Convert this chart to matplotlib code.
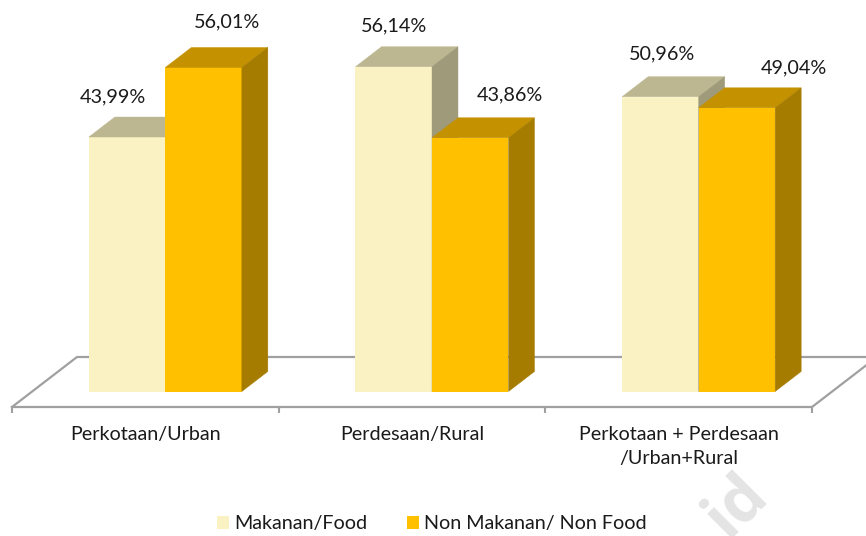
import matplotlib
matplotlib.use("Agg")
import matplotlib.pyplot as plt
from matplotlib.patches import Polygon, Patch

categories = ["Perkotaan/Urban", "Perdesaan/Rural", "Perkotaan + Perdesaan\n/Urban+Rural"]
food = [43.99, 56.14, 50.96]
non_food = [56.01, 43.86, 49.04]
food_name = "Makanan/Food"
non_food_name = "Non Makanan/ Non Food"

plt.rcParams['font.family'] = ['Lato', 'DejaVu Sans']
W, H = 866, 536
FS = 14.2
fig = plt.figure(figsize=(W / 100, H / 100), dpi=100)

# axes: x spans 3 categories across 12..812 px; y is percent, 5.785 px per point
x0, x1 = 12, 812
base = 391.5
ppu = 5.785
ymax = 60
ax = fig.add_axes([x0 / W, 1 - base / H, (x1 - x0) / W, ymax * ppu / H])
ax.set_xlim(0, 3)
ax.set_ylim(0, ymax)
ax.patch.set_visible(False)

px_x = 3 / (x1 - x0)      # data units per pixel, x
px_y = 1 / ppu            # data units per pixel, y
depth_x, depth_y = 26 * px_x, 20 * px_y
bar_w = 76.5 * px_x
shift = 20 * px_x         # 3-D bars sit toward the back of the floor

GREY = "#A0A0A0"
# floor
front_y = -15.5 * px_y
fx, fy = 65 * px_x, 50 * px_y
ax.plot([0, fx, 3 + fx, 3], [front_y, front_y + fy, front_y + fy, front_y],
        color=GREY, lw=1.6, clip_on=False, zorder=1, solid_joinstyle='miter')

for s in ['top', 'left', 'right']:
    ax.spines[s].set_visible(False)
ax.spines['bottom'].set_position(('outward', 15.5 * 0.72))
ax.spines['bottom'].set_color(GREY)
ax.spines['bottom'].set_linewidth(1.6)
ax.set_yticks([])
ax.set_xticks([0, 1, 2, 3])
ax.set_xticklabels([])
ax.tick_params(axis='x', which='major', length=4, width=1.5, color=GREY)
ax.set_xticks([0.5, 1.5, 2.5], minor=True)
ax.set_xticklabels(categories, minor=True, fontsize=FS, color="#1a1a1a", linespacing=1.45, va='top')
ax.tick_params(axis='x', which='minor', length=0, pad=14)


def bar3d(x, v, front, top, side, z):
    ax.bar(x, v, bar_w, align='edge', color=front, zorder=z, clip_on=False)
    ax.add_patch(Polygon([(x, v), (x + bar_w, v), (x + bar_w + depth_x, v + depth_y), (x + depth_x, v + depth_y)],
                         closed=True, fc=top, ec=top, lw=0.3, zorder=z, clip_on=False))
    ax.add_patch(Polygon([(x + bar_w, 0), (x + bar_w + depth_x, depth_y), (x + bar_w + depth_x, v + depth_y), (x + bar_w, v)],
                         closed=True, fc=side, ec=side, lw=0.3, zorder=z, clip_on=False))


food_off = [(-14.5, 40), (0, 41), (2, 43)]
non_off = [(23, 46), (40, 43), (57, 40)]
for i in range(3):
    c = i + 0.5 + shift
    xf = c - bar_w
    bar3d(xf, food[i], "#FAF2C3", "#BDB791", "#9F9A7A", 3 + 2 * i)
    bar3d(c, non_food[i], "#FFC000", "#C49200", "#A67C00", 4 + 2 * i)
    for x, v, off in ((xf, food[i], food_off[i]), (c, non_food[i], non_off[i])):
        ax.annotate(f"{v:.2f}%".replace('.', ','), (x + bar_w / 2, v), xytext=(off[0] * 0.72, off[1] * 0.72),
                    textcoords='offset points', ha='center', va='center', fontsize=FS,
                    color="#1a1a1a", zorder=20, annotation_clip=False)

leg = fig.legend(handles=[Patch(fc="#FAF2C3", label=food_name), Patch(fc="#FFC000", label=non_food_name)],
                 loc='center', bbox_to_anchor=(432 / W, 1 - 524 / H), ncol=2, frameon=False, fontsize=FS,
                 handlelength=0.62, handleheight=0.62, handletextpad=0.26, columnspacing=2.0, labelcolor="#1a1a1a")

fig.text(737 / W, 1 - 506 / H, "id", rotation=45, fontsize=46, fontweight='bold', color="#E4E4E4",
         ha='center', va='center', family='Open Sans', zorder=0)

fig.savefig("out.png", dpi=100, facecolor='white')
